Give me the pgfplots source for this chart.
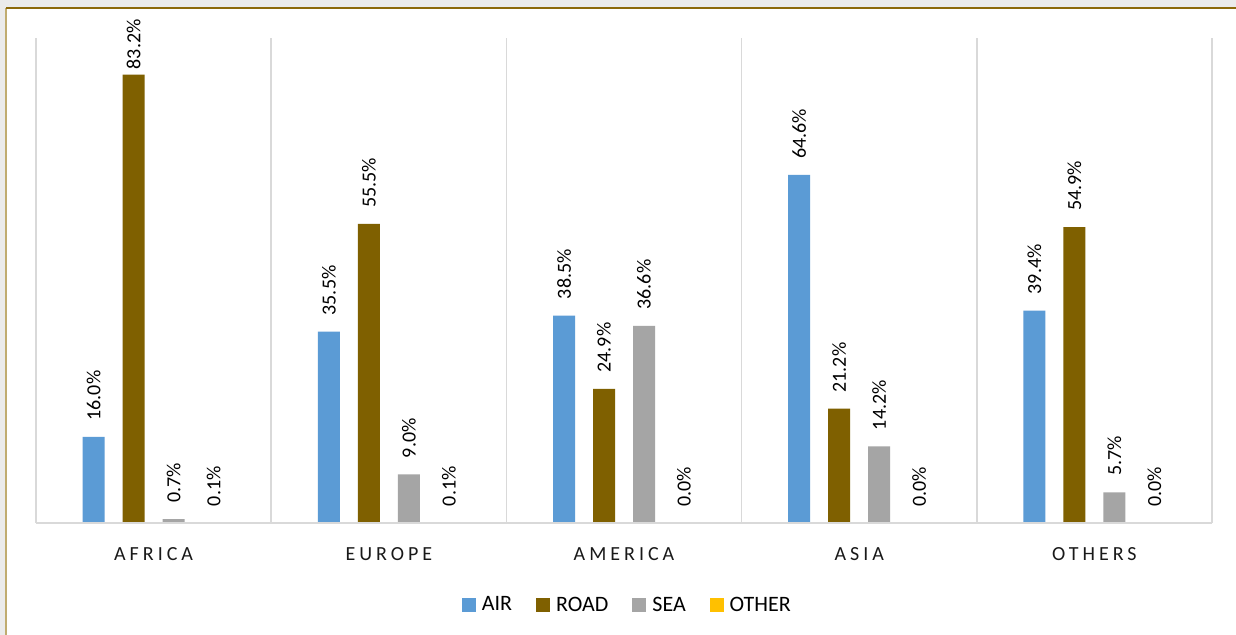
\documentclass[border=0pt]{standalone}
\usepackage{fontspec}
\setmainfont{Carlito}
\usepackage{pgfplots}
\pgfplotsset{compat=1.18}

\definecolor{airblue}{HTML}{5B9BD5}
\definecolor{roadbrown}{HTML}{7F6000}
\definecolor{seagrey}{HTML}{A5A5A5}
\definecolor{otheryellow}{HTML}{FFC000}
\definecolor{gridgrey}{HTML}{D9D9D9}
\definecolor{bandgrey}{HTML}{EBEBEB}
\definecolor{frametop}{RGB}{140,105,10}
\definecolor{frameleft}{RGB}{192,172,112}

% value label; a label that would reach the frame is pulled towards its bar
\newcommand{\pctlabel}{%
  \pgfmathfloattofixed{\pgfplotspointmeta}%
  \ifdim\pgfmathresult pt>80pt\hspace*{-5.5pt}\fi
  \pgfmathprintnumber[fixed,fixed zerofill,precision=1]{\pgfplotspointmeta}\%}

\begin{document}
\begin{tikzpicture}[x=1pt,y=1pt]
  % page: 1236 x 635 px at 0.5pt per px
  \useasboundingbox (0,0) rectangle (618,317.5);
  \fill[bandgrey] (0,0) rectangle (618,317.5);
  \fill[white] (3,0) rectangle (618,313.5);
  \draw[frameleft, line width=0.8pt] (3,0) -- (3,313.5);
  \draw[frametop, line width=0.8pt] (3,313.5) -- (618,313.5);

  \begin{axis}[
    at={(18pt,56pt)}, anchor=south west,
    scale only axis,
    width=588pt, height=242.5pt,
    ybar=9pt, bar width=11pt,
    xmin=-0.5, xmax=4.5,
    ymin=0, ymax=90,
    axis on top,
    axis y line=none,
    axis x line*=bottom,
    axis line style={draw=gridgrey, line width=1pt},
    xtick={0,1,2,3,4},
    xticklabels={AFRICA,EUROPE,AMERICA,ASIA,OTHERS},
    major tick length=0pt,
    minor tick length=0pt,
    minor xtick={-0.5,0.5,1.5,2.5,3.5,4.5},
    xminorgrids=true,
    minor grid style={draw=gridgrey, line width=0.8pt},
    xticklabel style={font=\fontsize{10}{12}\selectfont\addfontfeature{LetterSpace=20},
      text=black!90, yshift=-8.5pt},
    /pgf/number format/assume math mode=true,
    nodes near coords={\pctlabel},
    nodes near coords style={rotate=90, anchor=west, inner xsep=8pt, inner ysep=0pt,
      font=\fontsize{10}{12}\selectfont, text=black},
    legend columns=4,
    legend style={at={(0.5020,-0.170)}, anchor=center, draw=none, fill=none,
      font=\fontsize{11}{13}\selectfont,
      nodes={inner xsep=0pt, inner ysep=1pt},
      /tikz/every odd column/.append style={column sep=3pt},
      /tikz/every even column/.append style={column sep=12pt}},
    legend image code/.code={\fill[#1] (0pt,-3.5pt) rectangle (7pt,3.5pt);},
    clip=false,
  ]
    \addplot[fill=airblue, draw=none] coordinates {(0,16.0) (1,35.5) (2,38.5) (3,64.6) (4,39.4)};
    \addplot[fill=roadbrown, draw=none] coordinates {(0,83.2) (1,55.5) (2,24.9) (3,21.2) (4,54.9)};
    \addplot[fill=seagrey, draw=none] coordinates {(0,0.7) (1,9.0) (2,36.6) (3,14.2) (4,5.7)};
    \addplot[fill=otheryellow, draw=none] coordinates {(0,0.1) (1,0.1) (2,0.0) (3,0.0) (4,0.0)};
    \legend{AIR,ROAD,SEA,OTHER}
  \end{axis}
\end{tikzpicture}
\end{document}
